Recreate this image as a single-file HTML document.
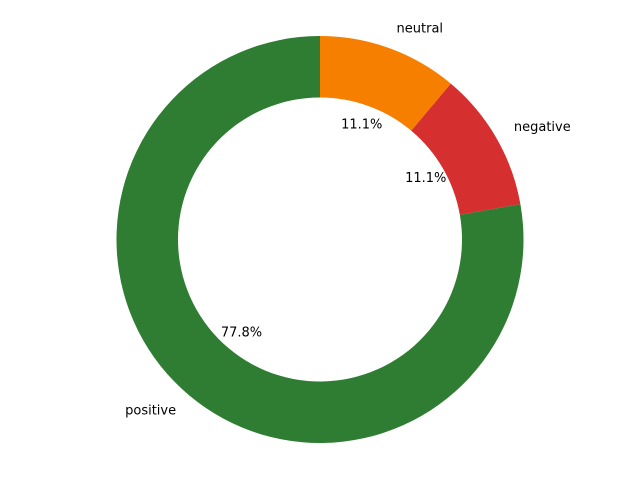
<!DOCTYPE html>
<html><head><meta charset="utf-8"><style>
html,body{margin:0;padding:0;background:#fff;}
svg text{font-family:"DejaVu Sans","Liberation Sans",sans-serif;font-size:13px;fill:#000;}
</style></head><body>
<svg id="chart" width="640" height="480" viewBox="0 0 640 480">
<rect width="640" height="480" fill="#fff"/>
<g id="slices"></g>
<g id="labels"></g>
</svg>
<script>
const categories = ["neutral", "negative", "positive"];
const values = [1, 1, 7];
const colors = ["#f77f00", "#d62f2f", "#2e7d32"];

const cx = 320, cy = 239.5, R = 203.5, r = 142;
const total = values.reduce((a, b) => a + b, 0);
const ns = "http://www.w3.org/2000/svg";
const gS = document.getElementById('slices');
const gL = document.getElementById('labels');
function pt(rad, deg) { const a = deg * Math.PI / 180; return [cx + rad * Math.cos(a), cy - rad * Math.sin(a)]; }
let a0 = 90;
values.forEach((v, i) => {
  const sweep = 360 * v / total;
  const a1 = a0 - sweep;
  const large = sweep > 180 ? 1 : 0;
  const p1 = pt(R, a0), p2 = pt(R, a1), p3 = pt(r, a1), p4 = pt(r, a0);
  const d = `M${p1[0]},${p1[1]} A${R},${R} 0 ${large} 1 ${p2[0]},${p2[1]} L${p3[0]},${p3[1]} A${r},${r} 0 ${large} 0 ${p4[0]},${p4[1]} Z`;
  const path = document.createElementNS(ns, 'path');
  path.setAttribute('d', d);
  path.setAttribute('fill', colors[i]);
  
  
  gS.appendChild(path);
  const mid = (a0 + a1) / 2;
  const lp = pt(R * 1.1, mid);
  const t = document.createElementNS(ns, 'text');
  t.setAttribute('x', lp[0]); t.setAttribute('y', lp[1]);
  t.setAttribute('text-anchor', Math.cos(mid * Math.PI / 180) >= 0 ? 'start' : 'end');
  t.setAttribute('dominant-baseline', 'central');
  t.textContent = categories[i];
  
  
  gL.appendChild(t);
  const pp = pt(R * 0.6, mid);
  const tp = document.createElementNS(ns, 'text');
  tp.setAttribute('x', pp[0]); tp.setAttribute('y', pp[1]);
  tp.setAttribute('text-anchor', 'middle');
  tp.setAttribute('dominant-baseline', 'central');
  tp.textContent = (100 * v / total).toFixed(1) + '%';
  
  
  gL.appendChild(tp);
  a0 = a1;
});
</script>
</body></html>
